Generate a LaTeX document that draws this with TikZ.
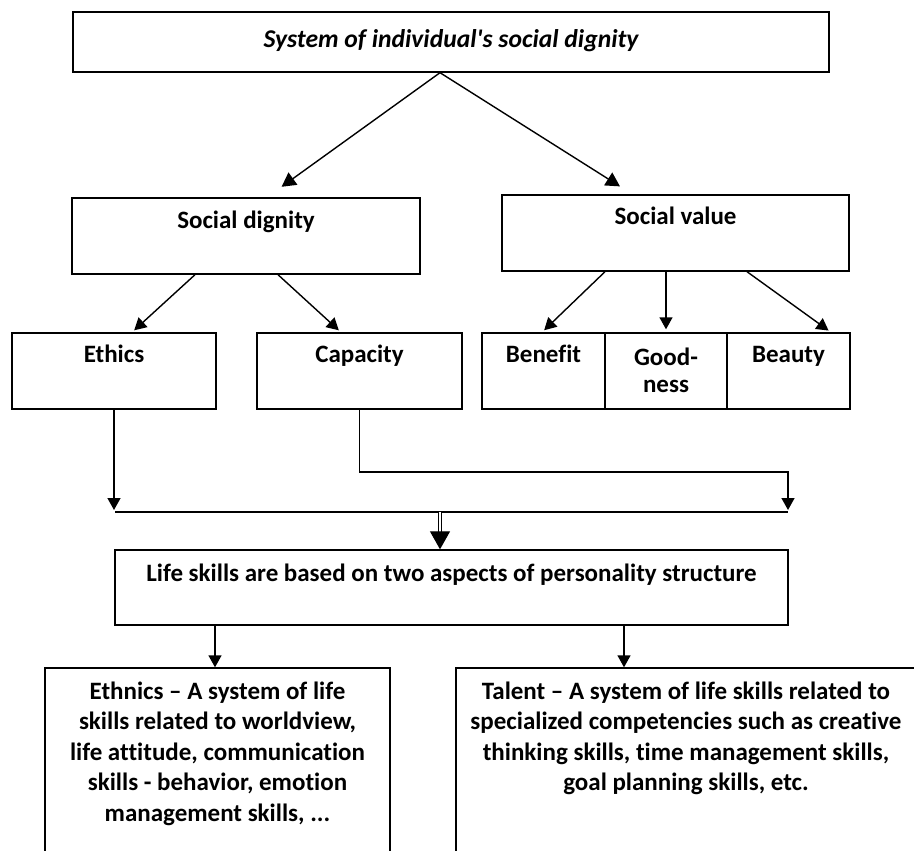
\documentclass[tikz,border=0pt]{standalone}
\usepackage{fontspec}
\setmainfont{Carlito}[Ligatures={TeXOff,NoCommon}]
\usetikzlibrary{positioning,arrows.meta,calc}

\tikzset{
  box/.style={draw, line width=0.7pt, inner sep=0pt},
  txt/.style={inner sep=0pt, align=center, anchor=base, font=\fontsize{12.5pt}{13.5pt}\selectfont\bfseries},
  longtxt/.style={txt, font=\fontsize{12.5pt}{15.25pt}\selectfont\bfseries},
  arr/.style={line width=0.7pt, -{Triangle[width=6.5pt,length=6pt]}},
  dbl/.style={double, double distance=1.2pt, line width=0.6pt, -{Triangle[width=10pt,length=9pt]}},
}

\begin{document}
\begin{tikzpicture}[x=0.5pt,y=-0.5pt]
  \useasboundingbox (0,0) rectangle (914,850);
  \clip (0,0) rectangle (914,850);

  % top
  \node[box, minimum width=378pt, minimum height=30pt] (sys) at (451,42) {};
  \node[txt, font=\fontsize{12.8pt}{14pt}\selectfont\bfseries\itshape] (systxt) at (451,48) {System of individual's social dignity};

  % second level
  \node[box, minimum width=174pt, minimum height=38pt] (sd) at (246,236) {};
  \node[txt] (sdtxt) at (246,228) {Social dignity};
  \node[box, minimum width=173.5pt, minimum height=38pt] (sv) at (675.5,233) {};
  \node[txt] (svtxt) at (675.5,225) {Social value};

  % third level
  \node[box, minimum width=102pt, minimum height=38pt] (eth) at (114,371) {};
  \node[txt] (ethtxt) at (114,362) {Ethics};
  \node[box, minimum width=102.5pt, minimum height=38pt] (cap) at (359.5,371) {};
  \node[txt] (captxt) at (359.5,362) {Capacity};
  \node[box, minimum width=61.5pt, minimum height=38pt] (ben) at (543.5,371) {};
  \node[txt] (bentxt) at (543.5,362) {Benefit};
  \node[box, minimum width=61pt, minimum height=38pt] (good) at (666,371) {};
  \node[txt] (goodtxt) at (666,392) {Good-\\ness};
  \node[box, minimum width=61.5pt, minimum height=38pt] (bea) at (788.5,371) {};
  \node[txt] (beatxt) at (788.5,362) {Beauty};

  % life skills
  \node[box, minimum width=336.5pt, minimum height=37.5pt] (life) at (451.5,587.5) {};
  \node[txt] (lifetxt) at (451.5,581) {Life skills are based on two aspects of personality structure};

  % bottom boxes (cut off by the page)
  \node[box, minimum width=172.5pt, minimum height=125pt] (ethn) at (217.5,793) {};
  \node[longtxt] (ethntxt) at (217.5,821) {Ethnics – A system of life\\skills related to worldview,\\life attitude, communication\\skills - behavior, emotion\\management skills, ...};
  \node[box, minimum width=231pt, minimum height=125pt] (tal) at (687,793) {};
  \node[longtxt] (taltxt) at (686,790.5) {Talent – A system of life skills related to\\specialized competencies such as creative\\thinking skills, time management skills,\\goal planning skills, etc.};

  % arrows
  \draw[arr, -{Triangle[width=7.5pt,length=7pt]}, shorten >=9pt] ([xshift=-5.5pt]sys.south) -- ([xshift=10.5pt]sd.north);
  \draw[arr, -{Triangle[width=7.5pt,length=7pt]}, shorten >=7.4pt] ([xshift=-5.5pt]sys.south) -- ([xshift=-21.5pt]sv.north);
  \draw[arr, shorten >=1.5pt] ([xshift=-25.5pt]sd.south) -- ([xshift=9pt]eth.north);
  \draw[arr, shorten >=1.5pt] ([xshift=16pt]sd.south) -- ([xshift=-9.25pt]cap.north);
  \draw[arr, shorten >=1.5pt] ([xshift=-35.25pt]sv.south) -- ([xshift=-0.75pt]ben.north);
  \draw[arr, shorten >=1.5pt] (sv.south -| good.north) -- (good.north);
  \draw[arr, shorten >=1.5pt] ([xshift=35.75pt]sv.south) -- ([xshift=21.25pt]bea.north);

  % merging
  \coordinate (joinL) at (115,512);
  \coordinate (joinR) at (788,512);
  \coordinate (bendR) at (788,472);
  \coordinate (merge) at (440,512);
  \draw[line width=0.7pt] (joinL) -- (joinR);
  \draw[arr, shorten >=1pt] (eth.south) -- (eth.south |- joinL);
  \draw[arr, shorten >=1pt] (cap.south) -- (cap.south |- bendR) -- (bendR) -- (joinR);
  \draw[dbl] (merge) -- (merge |- life.north);

  \draw[arr] ([xshift=-118.25pt]life.south) -- ([xshift=-118.25pt]life.south |- ethn.north);
  \draw[arr] ([xshift=86.25pt]life.south) -- ([xshift=86.25pt]life.south |- tal.north);
\end{tikzpicture}
\end{document}
